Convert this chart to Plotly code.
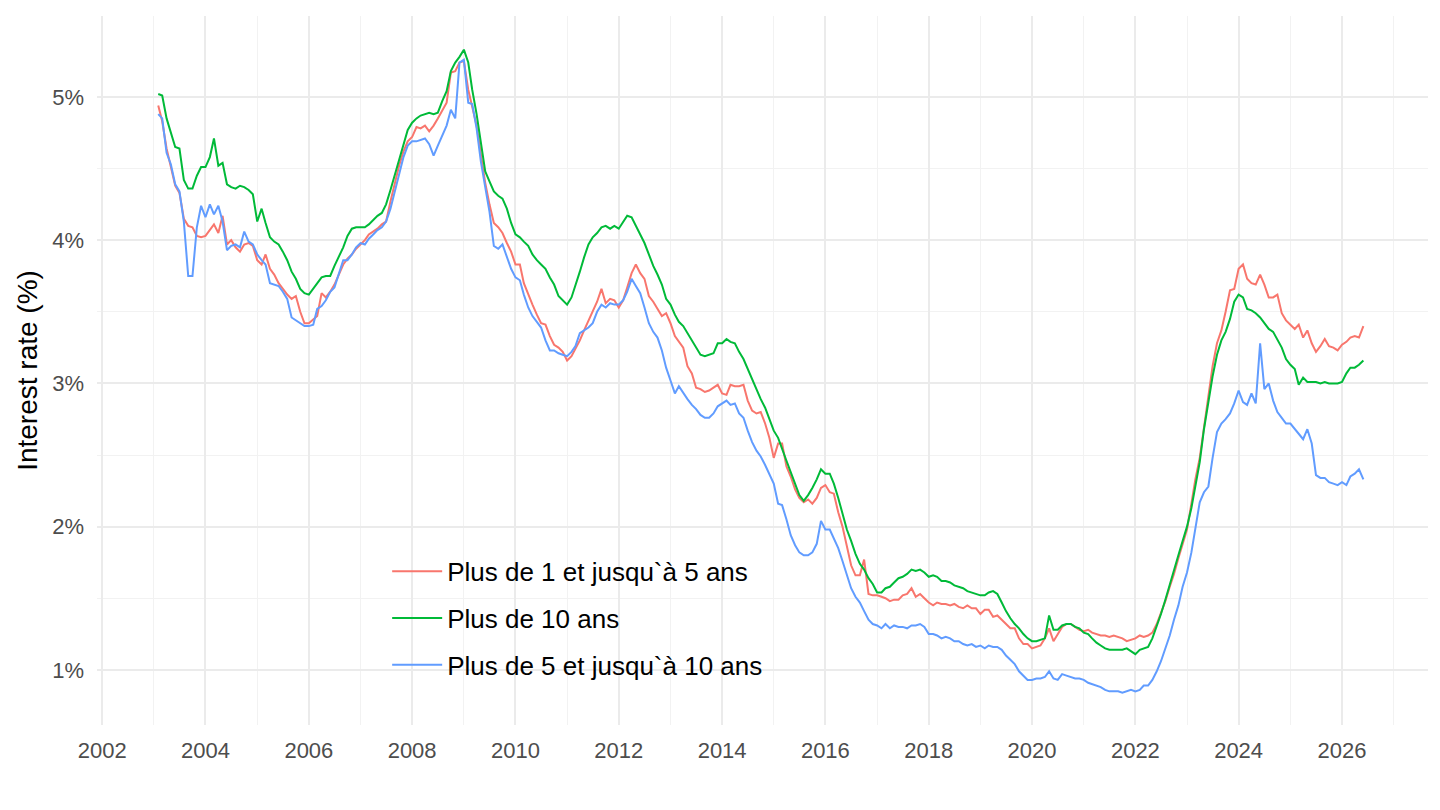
import pandas as pd
import plotly.graph_objects as go

# monthly rates (%), Feb 2003 -> Jun 2026
rate_1_5 = [
    4.94, 4.83, 4.64, 4.50, 4.38, 4.33, 4.15, 4.10, 4.09, 4.03, 4.02,  # 2003
    4.03, 4.07, 4.11, 4.05, 4.17, 3.97, 4.00, 3.95, 3.92, 3.97, 3.98, 3.96,
    3.86, 3.83, 3.90, 3.80, 3.76, 3.70, 3.66, 3.62, 3.59, 3.61, 3.50, 3.42,
    3.42, 3.45, 3.47, 3.63, 3.60, 3.64, 3.69, 3.76, 3.83, 3.87, 3.90, 3.94,
    3.97, 4.00, 4.04, 4.06, 4.08, 4.11, 4.13, 4.27, 4.40, 4.52, 4.62, 4.69,
    4.72, 4.79, 4.78, 4.80, 4.76, 4.80, 4.85, 4.90, 4.96, 5.17, 5.18, 5.24,
    5.25, 5.05, 4.92, 4.80, 4.60, 4.40, 4.25, 4.12, 4.09, 4.05, 3.98, 3.92,
    3.83, 3.83, 3.70, 3.62, 3.55, 3.48, 3.42, 3.41, 3.33, 3.27, 3.25, 3.22,
    3.16, 3.19, 3.24, 3.30, 3.37, 3.44, 3.51, 3.57, 3.66, 3.56, 3.59, 3.58,
    3.53, 3.58, 3.67, 3.77, 3.83, 3.77, 3.73, 3.61, 3.57, 3.52, 3.47, 3.49,
    3.42, 3.33, 3.29, 3.25, 3.12, 3.07, 2.97, 2.96, 2.94, 2.95, 2.97, 2.99,
    2.93, 2.92, 2.99, 2.98, 2.98, 2.99, 2.88, 2.81, 2.79, 2.80, 2.72, 2.62,
    2.48, 2.58, 2.58, 2.42, 2.35, 2.26, 2.20, 2.17, 2.19, 2.16, 2.20, 2.27,
    2.29, 2.24, 2.23, 2.10, 2.00, 1.85, 1.73, 1.66, 1.66, 1.77, 1.53, 1.52,
    1.52, 1.51, 1.50, 1.48, 1.49, 1.49, 1.52, 1.53, 1.57, 1.51, 1.53, 1.50,
    1.47, 1.45, 1.47, 1.46, 1.46, 1.45, 1.46, 1.44, 1.43, 1.45, 1.43, 1.43,
    1.39, 1.42, 1.42, 1.37, 1.38, 1.35, 1.32, 1.29, 1.29, 1.22, 1.18, 1.18,
    1.15, 1.16, 1.17, 1.22, 1.29, 1.20, 1.25, 1.30, 1.32, 1.32, 1.30, 1.28,
    1.27, 1.28, 1.26, 1.25, 1.24, 1.24, 1.23, 1.24, 1.23, 1.22, 1.20, 1.21,
    1.22, 1.24, 1.23, 1.24, 1.26, 1.32, 1.40, 1.48, 1.58, 1.67, 1.78, 1.88,
    1.98, 2.16, 2.33, 2.48, 2.70, 2.90, 3.12, 3.28, 3.37, 3.50, 3.65, 3.66,
    3.80, 3.83, 3.73, 3.70, 3.69, 3.76, 3.69, 3.60, 3.60, 3.62, 3.49, 3.44,
    3.41, 3.38, 3.41, 3.32, 3.37, 3.28, 3.22, 3.26, 3.31, 3.26, 3.25, 3.23,
    3.27, 3.29, 3.32, 3.33, 3.32, 3.40,  # 2026
]

rate_10 = [
    5.02, 5.01, 4.85, 4.75, 4.65, 4.64, 4.42, 4.36, 4.36, 4.45, 4.51,  # 2003
    4.51, 4.58, 4.71, 4.52, 4.54, 4.39, 4.37, 4.36, 4.38, 4.37, 4.35, 4.32,
    4.13, 4.22, 4.12, 4.02, 3.99, 3.97, 3.92, 3.86, 3.78, 3.73, 3.66, 3.63,
    3.62, 3.66, 3.70, 3.74, 3.75, 3.75, 3.82, 3.88, 3.95, 4.03, 4.08, 4.09,
    4.09, 4.09, 4.11, 4.14, 4.17, 4.19, 4.25, 4.35, 4.46, 4.57, 4.68, 4.77,
    4.82, 4.85, 4.87, 4.88, 4.89, 4.88, 4.89, 4.97, 5.04, 5.18, 5.24, 5.28,
    5.33, 5.24, 5.05, 4.88, 4.67, 4.48, 4.41, 4.34, 4.31, 4.29, 4.22, 4.12,
    4.04, 4.02, 3.99, 3.96, 3.90, 3.86, 3.83, 3.80, 3.74, 3.69, 3.61, 3.58,
    3.55, 3.60, 3.68, 3.78, 3.88, 3.97, 4.02, 4.05, 4.09, 4.10, 4.08, 4.10,
    4.08, 4.13, 4.17, 4.16, 4.10, 4.04, 3.98, 3.90, 3.82, 3.76, 3.69, 3.59,
    3.55, 3.48, 3.43, 3.40, 3.35, 3.30, 3.25, 3.20, 3.19, 3.20, 3.21, 3.28,
    3.28, 3.31, 3.29, 3.28, 3.22, 3.17, 3.10, 3.02, 2.95, 2.89, 2.83, 2.75,
    2.67, 2.62, 2.55, 2.46, 2.38, 2.30, 2.22, 2.18, 2.22, 2.27, 2.33, 2.40,
    2.37, 2.37, 2.30, 2.20, 2.10, 1.98, 1.90, 1.81, 1.74, 1.70, 1.64, 1.60,
    1.54, 1.54, 1.57, 1.58, 1.61, 1.64, 1.65, 1.67, 1.70, 1.69, 1.70, 1.68,
    1.65, 1.66, 1.65, 1.62, 1.62, 1.61, 1.59, 1.58, 1.57, 1.55, 1.54, 1.53,
    1.52, 1.52, 1.54, 1.55, 1.53, 1.47, 1.41, 1.36, 1.32, 1.29, 1.25, 1.22,
    1.20, 1.20, 1.21, 1.22, 1.38, 1.28, 1.28, 1.31, 1.32, 1.32, 1.30, 1.29,
    1.26, 1.25, 1.22, 1.19, 1.17, 1.15, 1.14, 1.14, 1.14, 1.14, 1.15, 1.13,
    1.11, 1.14, 1.15, 1.16, 1.22, 1.30, 1.39, 1.49, 1.60, 1.70, 1.80, 1.90,
    2.00, 2.13, 2.27, 2.45, 2.68, 2.88, 3.05, 3.20, 3.30, 3.36, 3.45, 3.57,
    3.62, 3.60, 3.52, 3.51, 3.49, 3.46, 3.42, 3.38, 3.36, 3.31, 3.25, 3.17,
    3.13, 3.10, 2.99, 3.04, 3.01, 3.01, 3.01, 3.00, 3.01, 3.00, 3.00, 3.00,
    3.01, 3.07, 3.11, 3.11, 3.13, 3.16,  # 2026
]

rate_5_10 = [
    4.88, 4.85, 4.61, 4.53, 4.39, 4.34, 4.13, 3.75, 3.75, 4.09, 4.24,  # 2003
    4.16, 4.25, 4.18, 4.24, 4.13, 3.93, 3.96, 3.97, 3.95, 4.06, 3.99, 3.97,
    3.90, 3.86, 3.83, 3.70, 3.69, 3.68, 3.64, 3.59, 3.46, 3.44, 3.42, 3.40,
    3.40, 3.41, 3.52, 3.54, 3.58, 3.64, 3.67, 3.76, 3.86, 3.86, 3.90, 3.95,
    3.98, 3.97, 4.01, 4.04, 4.07, 4.09, 4.13, 4.22, 4.34, 4.47, 4.58, 4.66,
    4.69, 4.69, 4.70, 4.71, 4.67, 4.59, 4.66, 4.73, 4.80, 4.91, 4.85, 5.24,
    5.26, 4.96, 4.95, 4.78, 4.55, 4.37, 4.20, 3.96, 3.94, 3.97, 3.89, 3.80,
    3.74, 3.72, 3.62, 3.53, 3.47, 3.43, 3.39, 3.30, 3.23, 3.23, 3.21, 3.20,
    3.19, 3.22, 3.26, 3.35, 3.37, 3.39, 3.42, 3.50, 3.55, 3.53, 3.56, 3.55,
    3.55, 3.58, 3.64, 3.73, 3.68, 3.63, 3.53, 3.42, 3.36, 3.32, 3.23, 3.11,
    3.02, 2.93, 2.98, 2.93, 2.89, 2.85, 2.82, 2.78, 2.76, 2.76, 2.79, 2.84,
    2.86, 2.88, 2.85, 2.86, 2.79, 2.76, 2.67, 2.59, 2.53, 2.49, 2.43, 2.36,
    2.30, 2.16, 2.15, 2.05, 1.94, 1.87, 1.82, 1.80, 1.80, 1.82, 1.88, 2.04,
    1.98, 1.98, 1.92, 1.85, 1.76, 1.66, 1.57, 1.51, 1.47, 1.41, 1.35, 1.32,
    1.31, 1.29, 1.32, 1.29, 1.31, 1.30, 1.30, 1.29, 1.31, 1.31, 1.32, 1.30,
    1.25, 1.25, 1.24, 1.22, 1.23, 1.22, 1.20, 1.20, 1.18, 1.17, 1.18, 1.16,
    1.17, 1.15, 1.17, 1.16, 1.16, 1.14, 1.10, 1.07, 1.04, 0.99, 0.96, 0.93,
    0.93, 0.94, 0.94, 0.95, 0.99, 0.94, 0.93, 0.97, 0.96, 0.95, 0.94, 0.94,
    0.93, 0.91, 0.90, 0.89, 0.88, 0.86, 0.85, 0.85, 0.85, 0.84, 0.85, 0.86,
    0.85, 0.86, 0.89, 0.89, 0.93, 0.99, 1.06, 1.15, 1.24, 1.35, 1.45, 1.58,
    1.68, 1.82, 2.00, 2.17, 2.24, 2.28, 2.48, 2.66, 2.72, 2.75, 2.79, 2.86,
    2.95, 2.87, 2.85, 2.93, 2.86, 3.28, 2.96, 3.00, 2.88, 2.80, 2.76, 2.72,
    2.72, 2.68, 2.65, 2.61, 2.68, 2.58, 2.36, 2.34, 2.34, 2.31, 2.30, 2.29,
    2.31, 2.29, 2.35, 2.37, 2.40, 2.33,  # 2026
]

y_ticks = [1, 2, 3, 4, 5]
y_labels = ["1%", "2%", "3%", "4%", "5%"]

dates = pd.date_range("2003-02-01", periods=len(rate_1_5), freq="MS")

series = [
    ("Plus de 1 et jusqu`à 5 ans", rate_1_5, "#F8766D"),
    ("Plus de 10 ans", rate_10, "#00BA38"),
    ("Plus de 5 et jusqu`à 10 ans", rate_5_10, "#619CFF"),
]

fig = go.Figure()
for name, vals, col in series:
    fig.add_trace(go.Scatter(
        x=dates, y=vals, name=name, mode="lines",
        line=dict(color=col, width=2),
        legendgroup=name,
    ))

# page body adds ~7px offset, so the figure is a bit smaller than the window
fig.update_layout(
    width=1433, height=803,
    margin=dict(l=89, r=13, t=8, b=86),
    plot_bgcolor="white",
    paper_bgcolor="white",
    font=dict(family="Liberation Sans, Arial", color="#4D4D4D", size=22),
    showlegend=True,
    legend=dict(
        x=0.218, y=0.25, xanchor="left", yanchor="top",
        bgcolor="rgba(0,0,0,0)",
        font=dict(size=26, color="#000000"),
        tracegroupgap=10,
        itemwidth=50,
    ),
    xaxis=dict(
        type="date",
        range=["2001-11-25", "2027-09-01"],
        tick0="2002-01-01", dtick="M24", tickformat="%Y",
        showgrid=True, gridcolor="#EBEBEB", gridwidth=1.8,
        minor=dict(dtick="M12", tick0="2003-01-01", showgrid=True,
                   gridcolor="#F2F2F2", gridwidth=1),
        zeroline=False, showline=False, ticks="",
        ticklabelstandoff=10,
        automargin=False,
        tickfont=dict(size=22, color="#4D4D4D"),
    ),
    yaxis=dict(
        range=[0.615, 5.565],
        tickmode="array", tickvals=y_ticks, ticktext=y_labels,
        showgrid=True, gridcolor="#EBEBEB", gridwidth=1.8,
        minor=dict(tickvals=[1.5, 2.5, 3.5, 4.5], showgrid=True,
                   gridcolor="#F2F2F2", gridwidth=1),
        zeroline=False, showline=False, ticks="",
        ticklabelstandoff=12,
        automargin=False,
        tickfont=dict(size=22, color="#4D4D4D"),
        title=dict(text="Interest rate (%)", font=dict(size=28, color="black"),
                   standoff=6),
    ),
)

fig.write_html("out.html")
